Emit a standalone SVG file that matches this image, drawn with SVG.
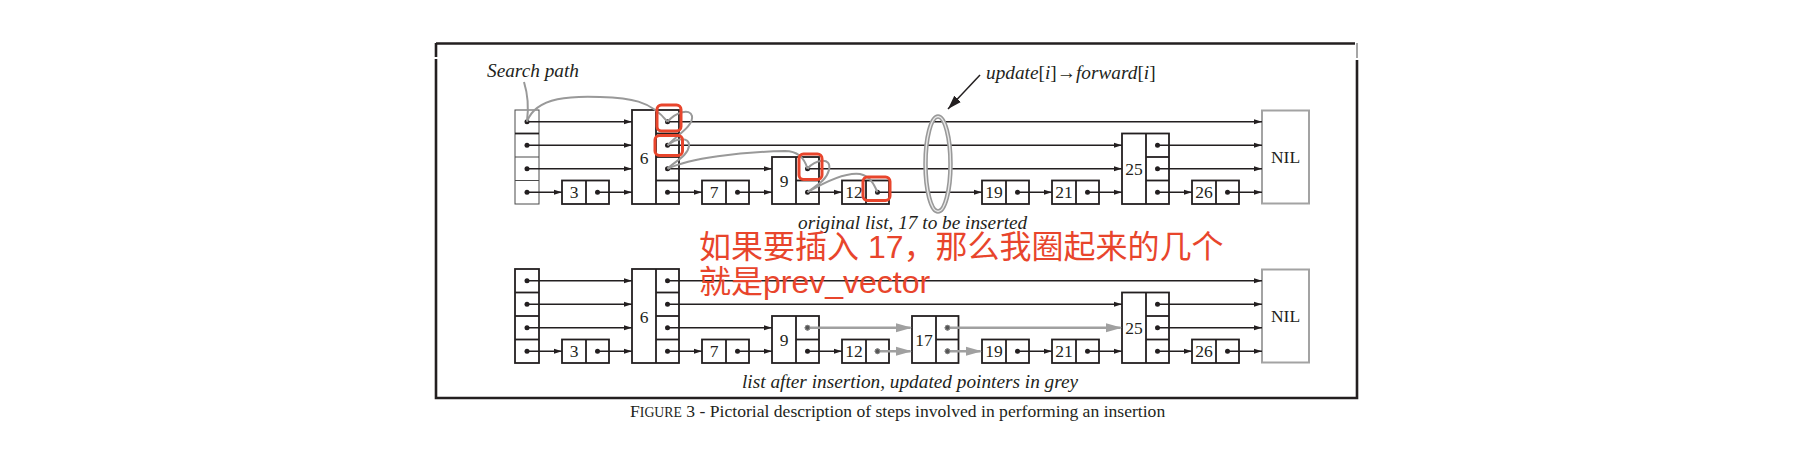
<svg xmlns="http://www.w3.org/2000/svg" width="1802" height="450" viewBox="0 0 1802 450">
<defs>
<style>
.box{fill:#fff;stroke:#231f20;stroke-width:1.8}
.hbox{fill:#fff;stroke:#4a4a4a;stroke-width:1}
.sep{stroke:#231f20;stroke-width:1.8}
.hsep{stroke:#4a4a4a;stroke-width:1}
.nil{fill:#fff;stroke:#a3a3a3;stroke-width:2}
.ln{stroke:#231f20;stroke-width:1.3;fill:none;marker-end:url(#ab)}
.gl{stroke:#a0a0a0;stroke-width:2.6;fill:none;marker-end:url(#ag)}
.sp{stroke:#999;stroke-width:2;fill:none}
.dot{fill:#231f20}
.gdot{fill:#555;stroke:#888;stroke-width:1}
.num{font-family:"Liberation Serif",serif;font-size:17.5px;fill:#231f20;text-anchor:middle}
.it{font-family:"Liberation Serif",serif;font-style:italic;font-size:19.3px;fill:#231f20}
.up{font-style:normal}
.red{fill:none;stroke:#e8452c;stroke-width:3}
.cn{font-family:"Liberation Sans","Noto Sans CJK SC",sans-serif;font-size:32px;fill:#e8452c}
.cap{font-family:"Liberation Serif",serif;font-size:17.6px;fill:#231f20}
.frame{stroke:#231f20;stroke-width:2.6;fill:none}
</style>
<marker id="ab" markerUnits="userSpaceOnUse" markerWidth="9" markerHeight="7" refX="8" refY="3.5" orient="auto"><path d="M0,0.9 L8,3.5 L0,6.1 z" fill="#231f20"/></marker>
<marker id="ag" markerUnits="userSpaceOnUse" markerWidth="17" markerHeight="10" refX="14.5" refY="5" orient="auto"><path d="M0,0.6 L16,5 L0,9.4 z" fill="#a0a0a0"/></marker>
<marker id="au" markerUnits="userSpaceOnUse" markerWidth="15" markerHeight="10" refX="14" refY="5" orient="auto"><path d="M0,0.5 L14,5 L0,9.5 z" fill="#231f20"/></marker>
</defs>
<rect width="1802" height="450" fill="#fff"/>

<g id="frame">
<path class="frame" d="M436,43.5 H1355 M436,43 V57 M436,59 V398 H1357 V60"/>
<path d="M1357,43 V58" stroke="#888" stroke-width="1.5"/>
</g>

<!-- ============ TOP LIST ============ -->
<g id="top-list">
<g id="t_head" transform="translate(515,110)">
<rect class="hbox" width="24" height="94"/>
<line class="sep" x1="0" y1="23.5" x2="24" y2="23.5"/>
<line class="hsep" x1="0" y1="47" x2="24" y2="47"/>
<line class="hsep" x1="0" y1="70.5" x2="24" y2="70.5"/>
<circle class="dot" cx="12" cy="11.75" r="2.5"/>
<circle class="dot" cx="12" cy="35.25" r="2.5"/>
<circle class="dot" cx="12" cy="58.75" r="2.5"/>
<circle class="dot" cx="12" cy="82.25" r="2.5"/>
</g>
<g id="t_n3" transform="translate(562,180.5)">
<rect class="box" width="47" height="23.5"/><line class="sep" x1="24" y1="0" x2="24" y2="23.5"/>
<text class="num" x="12" y="17.5">3</text><circle class="dot" cx="35.5" cy="11.75" r="2.5"/>
</g>
<g id="t_n6" transform="translate(632,110)">
<rect class="box" width="47" height="94"/><line class="sep" x1="24" y1="0" x2="24" y2="94"/>
<line class="sep" x1="24" y1="23.5" x2="47" y2="23.5"/><line class="sep" x1="24" y1="47" x2="47" y2="47"/><line class="sep" x1="24" y1="70.5" x2="47" y2="70.5"/>
<text class="num" x="12" y="53.5">6</text>
<circle class="dot" cx="35.5" cy="11.75" r="2.5"/><circle class="dot" cx="35.5" cy="35.25" r="2.5"/><circle class="dot" cx="35.5" cy="58.75" r="2.5"/><circle class="dot" cx="35.5" cy="82.25" r="2.5"/>
</g>
<g id="t_n7" transform="translate(702,180.5)">
<rect class="box" width="47" height="23.5"/><line class="sep" x1="24" y1="0" x2="24" y2="23.5"/>
<text class="num" x="12" y="17.5">7</text><circle class="dot" cx="35.5" cy="11.75" r="2.5"/>
</g>
<g id="t_n9" transform="translate(772,157)">
<rect class="box" width="47" height="47"/><line class="sep" x1="24" y1="0" x2="24" y2="47"/>
<line class="sep" x1="24" y1="23.5" x2="47" y2="23.5"/>
<text class="num" x="12" y="30">9</text>
<circle class="dot" cx="35.5" cy="11.75" r="2.5"/><circle class="dot" cx="35.5" cy="35.25" r="2.5"/>
</g>
<g id="t_n12" transform="translate(842,180.5)">
<rect class="box" width="47" height="23.5"/><line class="sep" x1="24" y1="0" x2="24" y2="23.5"/>
<text class="num" x="12" y="17.5">12</text><circle class="dot" cx="35.5" cy="11.75" r="2.5"/>
</g>
<g id="t_n19" transform="translate(982,180.5)">
<rect class="box" width="47" height="23.5"/><line class="sep" x1="24" y1="0" x2="24" y2="23.5"/>
<text class="num" x="12" y="17.5">19</text><circle class="dot" cx="35.5" cy="11.75" r="2.5"/>
</g>
<g id="t_n21" transform="translate(1052,180.5)">
<rect class="box" width="47" height="23.5"/><line class="sep" x1="24" y1="0" x2="24" y2="23.5"/>
<text class="num" x="12" y="17.5">21</text><circle class="dot" cx="35.5" cy="11.75" r="2.5"/>
</g>
<g id="t_n25" transform="translate(1122,133.5)">
<rect class="box" width="47" height="70.5"/><line class="sep" x1="24" y1="0" x2="24" y2="70.5"/>
<line class="sep" x1="24" y1="23.5" x2="47" y2="23.5"/><line class="sep" x1="24" y1="47" x2="47" y2="47"/>
<text class="num" x="12" y="41.5">25</text>
<circle class="dot" cx="35.5" cy="11.75" r="2.5"/><circle class="dot" cx="35.5" cy="35.25" r="2.5"/><circle class="dot" cx="35.5" cy="58.75" r="2.5"/>
</g>
<g id="t_n26" transform="translate(1192,180.5)">
<rect class="box" width="47" height="23.5"/><line class="sep" x1="24" y1="0" x2="24" y2="23.5"/>
<text class="num" x="12" y="17.5">26</text><circle class="dot" cx="35.5" cy="11.75" r="2.5"/>
</g>
<g id="t_nil" transform="translate(1262,110.5)">
<rect class="nil" width="47" height="93"/>
<text class="num" x="23.5" y="52.5">NIL</text>
</g>
</g>

<!-- ============ BOTTOM LIST ============ -->
<g id="bottom-list" transform="translate(0,159)">
<g id="b_head" transform="translate(515,110)">
<rect class="box" width="24" height="94"/>
<line class="sep" x1="0" y1="23.5" x2="24" y2="23.5"/><line class="sep" x1="0" y1="47" x2="24" y2="47"/><line class="sep" x1="0" y1="70.5" x2="24" y2="70.5"/>
<circle class="dot" cx="12" cy="11.75" r="2.5"/><circle class="dot" cx="12" cy="35.25" r="2.5"/><circle class="dot" cx="12" cy="58.75" r="2.5"/><circle class="dot" cx="12" cy="82.25" r="2.5"/>
</g>
<g id="b_n3" transform="translate(562,180.5)">
<rect class="box" width="47" height="23.5"/><line class="sep" x1="24" y1="0" x2="24" y2="23.5"/>
<text class="num" x="12" y="17.5">3</text><circle class="dot" cx="35.5" cy="11.75" r="2.5"/>
</g>
<g id="b_n6" transform="translate(632,110)">
<rect class="box" width="47" height="94"/><line class="sep" x1="24" y1="0" x2="24" y2="94"/>
<line class="sep" x1="24" y1="23.5" x2="47" y2="23.5"/><line class="sep" x1="24" y1="47" x2="47" y2="47"/><line class="sep" x1="24" y1="70.5" x2="47" y2="70.5"/>
<text class="num" x="12" y="53.5">6</text>
<circle class="dot" cx="35.5" cy="11.75" r="2.5"/><circle class="dot" cx="35.5" cy="35.25" r="2.5"/><circle class="dot" cx="35.5" cy="58.75" r="2.5"/><circle class="dot" cx="35.5" cy="82.25" r="2.5"/>
</g>
<g id="b_n7" transform="translate(702,180.5)">
<rect class="box" width="47" height="23.5"/><line class="sep" x1="24" y1="0" x2="24" y2="23.5"/>
<text class="num" x="12" y="17.5">7</text><circle class="dot" cx="35.5" cy="11.75" r="2.5"/>
</g>
<g id="b_n9" transform="translate(772,157)">
<rect class="box" width="47" height="47"/><line class="sep" x1="24" y1="0" x2="24" y2="47"/>
<line class="sep" x1="24" y1="23.5" x2="47" y2="23.5"/>
<text class="num" x="12" y="30">9</text>
<circle class="gdot" cx="35.5" cy="11.75" r="2.4"/><circle class="dot" cx="35.5" cy="35.25" r="2.5"/>
</g>
<g id="b_n12" transform="translate(842,180.5)">
<rect class="box" width="47" height="23.5"/><line class="sep" x1="24" y1="0" x2="24" y2="23.5"/>
<text class="num" x="12" y="17.5">12</text><circle class="gdot" cx="35.5" cy="11.75" r="2.4"/>
</g>
<g id="b_n17" transform="translate(912,157)">
<rect class="box" width="46.5" height="47"/><line class="sep" x1="24" y1="0" x2="24" y2="47"/>
<line class="sep" x1="24" y1="23.5" x2="46.5" y2="23.5"/>
<text class="num" x="12" y="30">17</text>
<circle class="gdot" cx="35.5" cy="11.75" r="2.4"/><circle class="gdot" cx="35.5" cy="35.25" r="2.4"/>
</g>
<g id="b_n19" transform="translate(982,180.5)">
<rect class="box" width="47" height="23.5"/><line class="sep" x1="24" y1="0" x2="24" y2="23.5"/>
<text class="num" x="12" y="17.5">19</text><circle class="dot" cx="35.5" cy="11.75" r="2.5"/>
</g>
<g id="b_n21" transform="translate(1052,180.5)">
<rect class="box" width="47" height="23.5"/><line class="sep" x1="24" y1="0" x2="24" y2="23.5"/>
<text class="num" x="12" y="17.5">21</text><circle class="dot" cx="35.5" cy="11.75" r="2.5"/>
</g>
<g id="b_n25" transform="translate(1122,133.5)">
<rect class="box" width="47" height="70.5"/><line class="sep" x1="24" y1="0" x2="24" y2="70.5"/>
<line class="sep" x1="24" y1="23.5" x2="47" y2="23.5"/><line class="sep" x1="24" y1="47" x2="47" y2="47"/>
<text class="num" x="12" y="41.5">25</text>
<circle class="dot" cx="35.5" cy="11.75" r="2.5"/><circle class="dot" cx="35.5" cy="35.25" r="2.5"/><circle class="dot" cx="35.5" cy="58.75" r="2.5"/>
</g>
<g id="b_n26" transform="translate(1192,180.5)">
<rect class="box" width="47" height="23.5"/><line class="sep" x1="24" y1="0" x2="24" y2="23.5"/>
<text class="num" x="12" y="17.5">26</text><circle class="dot" cx="35.5" cy="11.75" r="2.5"/>
</g>
<g id="b_nil" transform="translate(1262,110.5)">
<rect class="nil" width="47" height="93"/>
<text class="num" x="23.5" y="52.5">NIL</text>
</g>
</g>

<!-- ============ CONNECTORS ============ -->
<g id="connectors">
<!-- top list -->
<path class="ln" d="M527,121.75 H632"/>
<path class="ln" d="M667.5,121.75 H1262"/>
<path class="ln" d="M527,145.25 H632"/>
<path class="ln" d="M667.5,145.25 H1122"/>
<path class="ln" d="M1157.5,145.25 H1262"/>
<path class="ln" d="M527,168.75 H632"/>
<path class="ln" d="M667.5,168.75 H772"/>
<path class="ln" d="M807.5,168.75 H1122"/>
<path class="ln" d="M1157.5,168.75 H1262"/>
<path class="ln" d="M527,192.25 H562"/>
<path class="ln" d="M597.5,192.25 H632"/>
<path class="ln" d="M667.5,192.25 H702"/>
<path class="ln" d="M737.5,192.25 H772"/>
<path class="ln" d="M807.5,192.25 H842"/>
<path class="ln" d="M877.5,192.25 H982"/>
<path class="ln" d="M1017.5,192.25 H1052"/>
<path class="ln" d="M1087.5,192.25 H1122"/>
<path class="ln" d="M1157.5,192.25 H1192"/>
<path class="ln" d="M1227.5,192.25 H1262"/>
<!-- bottom list -->
<path class="ln" d="M527,280.75 H632"/>
<path class="ln" d="M667.5,280.75 H1262"/>
<path class="ln" d="M527,304.25 H632"/>
<path class="ln" d="M667.5,304.25 H1122"/>
<path class="ln" d="M1157.5,304.25 H1262"/>
<path class="ln" d="M527,327.75 H632"/>
<path class="ln" d="M667.5,327.75 H772"/>
<path class="gl" d="M807.5,327.75 H910.5"/>
<path class="gl" d="M947.5,327.75 H1120.5"/>
<path class="ln" d="M1157.5,327.75 H1262"/>
<path class="ln" d="M527,351.25 H562"/>
<path class="ln" d="M597.5,351.25 H632"/>
<path class="ln" d="M667.5,351.25 H702"/>
<path class="ln" d="M737.5,351.25 H772"/>
<path class="ln" d="M807.5,351.25 H842"/>
<path class="gl" d="M877.5,351.25 H910.5"/>
<path class="gl" d="M947.5,351.25 H980.5"/>
<path class="ln" d="M1017.5,351.25 H1052"/>
<path class="ln" d="M1087.5,351.25 H1122"/>
<path class="ln" d="M1157.5,351.25 H1192"/>
<path class="ln" d="M1227.5,351.25 H1262"/>
<!-- gray dots redrawn over gray lines -->
<circle class="gdot" cx="807.5" cy="327.75" r="2.4"/>
<circle class="gdot" cx="877.5" cy="351.25" r="2.4"/>
<circle class="gdot" cx="947.5" cy="327.75" r="2.4"/>
<circle class="gdot" cx="947.5" cy="351.25" r="2.4"/>
<!-- search path -->
<path class="sp" d="M524,82 C528,95 529,106 527,121"/>
<path class="sp" d="M527,121.75 C536,96 575,96 600,97 C630,98 650,100 667.5,121.75"/>
<path class="sp" d="M667.5,121.75 C676,112 690,108 692,116 C694,126 676,136 667.5,145.25"/>
<path class="sp" d="M667.5,145.25 C676,138 690,136 689,146 C688,156 674,162 667.5,168.75"/>
<path class="sp" d="M667.5,168.75 C690,158 740,152 785,151 C800,151 805,160 807.5,168.75"/>
<path class="sp" d="M807.5,168.75 C815,160 832,156 829,170 C826,182 813,187 807.5,192.25"/>
<path class="sp" d="M807.5,192.25 C825,182 845,172 860,174 C870,176 874,184 877.5,192.25"/>
<!-- update arrow and ellipse -->
<ellipse cx="938" cy="164" rx="12.5" ry="47.5" fill="none" stroke="#999" stroke-width="4.5"/>
<ellipse cx="938" cy="164" rx="12.5" ry="47.5" fill="none" stroke="#e8e8e8" stroke-width="1.4"/>
<path d="M980,75 L948,109" stroke="#231f20" stroke-width="1.5" fill="none" marker-end="url(#au)"/>
</g>

<!-- red highlight boxes -->
<g id="highlights">
<rect class="red" x="657" y="105" width="24" height="26" rx="4.5"/>
<rect class="red" x="655" y="135.5" width="27.5" height="20" rx="4.5"/>
<rect class="red" x="799" y="154" width="23" height="25.5" rx="4.5"/>
<rect class="red" x="863" y="177" width="27" height="23.5" rx="4.5"/>
</g>

<!-- labels -->
<g id="labels">
<text class="it" x="487" y="77">Search path</text>
<text class="it" x="986" y="79">update<tspan class="up">[</tspan>i<tspan class="up">]→</tspan>forward<tspan class="up">[</tspan>i<tspan class="up">]</tspan></text>
<text class="it" x="798" y="229">original list, 17 to be inserted</text>
<text class="it" x="742" y="388">list after insertion, updated pointers in grey</text>
<text class="cn" y="258"><tspan x="699">如果要插入</tspan><tspan x="868">17</tspan><tspan x="903.5">，</tspan><tspan x="935.5">那么我圈起来的几个</tspan></text>
<text class="cn" x="699" y="293">就是prev_vector</text>
<text class="cap" x="630" y="417">F<tspan font-size="13.8">IGURE</tspan> 3 - Pictorial description of steps involved in performing an insertion</text>
</g>
</svg>
